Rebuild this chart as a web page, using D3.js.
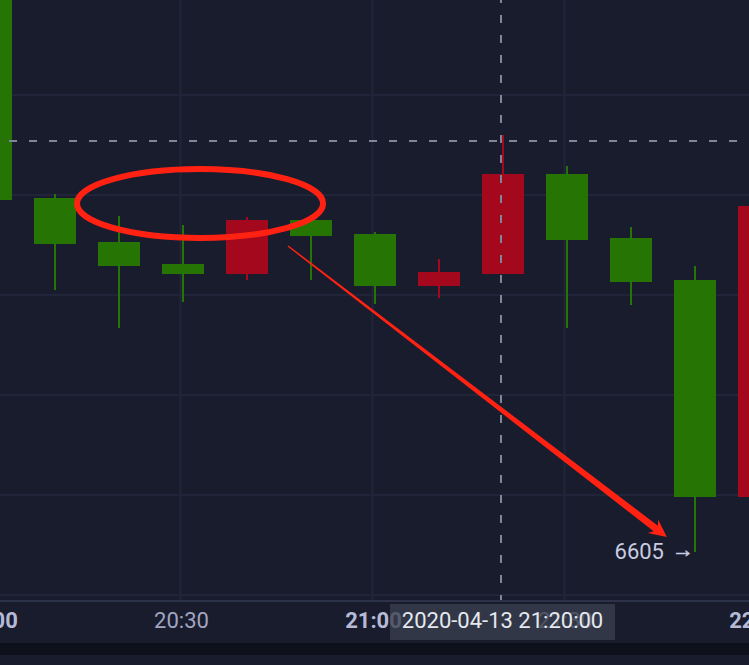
<!DOCTYPE html>
<html><head><meta charset="utf-8">
<script src="https://cdn.jsdelivr.net/npm/d3@7"></script>
<style>
html,body{margin:0;padding:0;background:#191c2d;overflow:hidden}
text{font-family:Roboto,"Noto Sans",sans-serif}
</style>
</head><body>
<svg id="chart" width="749" height="665"></svg>
<script>
// ---------- data ----------
const times  = ["20:00","20:10","20:20","20:30","20:40","20:50","21:00","21:10","21:20","21:30","21:40","21:50","22:00"];
const opens  = [6640.2, 6635.8, 6633.6, 6632.8, 6638.2, 6636.6, 6631.6, 6633.0, 6642.8, 6636.2, 6632.0, 6610.5, 6639.6];
const closes = [6664.2, 6640.4, 6636.0, 6633.8, 6632.8, 6638.2, 6636.8, 6631.6, 6632.8, 6642.8, 6636.4, 6632.2, 6610.5];
const highs  = [6665.2, 6640.8, 6638.6, 6637.7, 6638.5, 6638.4, 6637.0, 6634.3, 6646.7, 6643.6, 6637.5, 6633.6, 6640.2];
const lows   = [6639.7, 6631.2, 6627.4, 6630.0, 6632.2, 6632.2, 6629.8, 6630.4, 6632.8, 6627.4, 6629.7, 6605.0, 6609.7];

const tickTimes  = ["20:00","20:30","21:00","21:30","22:00"];
const tickLabels = ["20:00","20:30","21:00","21:30","22:00"];
const tickBold   = [true, false, true, false, true];
const gridPrices = [6600.7, 6610.7, 6620.7, 6630.7, 6640.7, 6650.7];

const crossTime  = "21:20";
const crossPrice = 6646.1;
const crossLabel = "2020-04-13 21:20:00";

const lowMarkTime  = "21:50";
const lowMarkPrice = 6605;
const lowMarkValue = "6605";
const lowMarkArrow = "→";

// annotation: ellipse bounds (time, price) and arrow (start, end)
const ellipseTimes  = ["20:13:45", "20:52:12"];
const ellipsePrices = [6643.3, 6636.4];
const arrowTimes    = ["20:46:43", "21:45:55"];
const arrowPrices   = [6635.6, 6606.5];

// ---------- setup ----------
const W = 749, H = 665, plotBottom = 600;
const parse = s => { const p = s.split(":").map(Number); return new Date(2020, 3, 13, p[0], p[1], p[2] || 0); };

const x = d3.scaleTime().domain([parse("20:30"), parse("21:20")]).range([181, 501]);
const y = d3.scaleLinear().domain([6605, 6655]).range([552, 52]);

const candles = times.map((t, i) => ({ t: parse(t), o: opens[i], c: closes[i], h: highs[i], l: lows[i] }));

const svg = d3.select("#chart");
const C = {
  bg: "#191c2d", grid: "#21253a", up: "#267504", down: "#a4081d",
  cross: "#7e8698", axisLine: "#2c3248", strip: "#0e111b",
  label: "#a1a5c2", labelBold: "#b6bad6", anno: "#ff2213", markText: "#c9cce0"
};

svg.append("rect").attr("width", W).attr("height", H).attr("fill", C.bg);

svg.append("defs").append("clipPath").attr("id", "plotClip")
  .append("rect").attr("x", 0).attr("y", 0).attr("width", W).attr("height", plotBottom);

const plot = svg.append("g").attr("clip-path", "url(#plotClip)");

// grid
plot.selectAll("line.hg").data(gridPrices).join("line").attr("class", "hg")
  .attr("x1", 0).attr("x2", W).attr("y1", d => y(d)).attr("y2", d => y(d))
  .attr("stroke", C.grid).attr("stroke-width", 2);
plot.selectAll("line.vg").data(tickTimes).join("line").attr("class", "vg")
  .attr("x1", d => x(parse(d)) - 0.5).attr("x2", d => x(parse(d)) - 0.5)
  .attr("y1", 0).attr("y2", plotBottom)
  .attr("stroke", C.grid).attr("stroke-width", 2);

// candles
const bodyW = 42, cOff = 2;
const cg = plot.selectAll("g.candle").data(candles).join("g").attr("class", "candle");
cg.append("line")
  .attr("x1", d => x(d.t) + cOff).attr("x2", d => x(d.t) + cOff)
  .attr("y1", d => y(d.h)).attr("y2", d => y(d.l))
  .attr("stroke", d => d.c >= d.o ? C.up : C.down).attr("stroke-width", 2);
cg.append("rect")
  .attr("x", d => x(d.t) + cOff - bodyW / 2).attr("width", bodyW)
  .attr("y", d => y(Math.max(d.o, d.c)))
  .attr("height", d => Math.max(1, Math.abs(y(d.o) - y(d.c))))
  .attr("fill", d => d.c >= d.o ? C.up : C.down);

// crosshair
plot.append("line")
  .attr("x1", -11).attr("x2", W).attr("y1", y(crossPrice)).attr("y2", y(crossPrice))
  .attr("stroke", C.cross).attr("stroke-width", 2).attr("stroke-dasharray", "8,12");
plot.append("line")
  .attr("x1", x(parse(crossTime))).attr("x2", x(parse(crossTime)))
  .attr("y1", -5).attr("y2", plotBottom)
  .attr("stroke", C.cross).attr("stroke-width", 2).attr("stroke-dasharray", "8,12");

// annotation ellipse
const ex1 = x(parse(ellipseTimes[0])), ex2 = x(parse(ellipseTimes[1]));
const ey1 = y(ellipsePrices[0]), ey2 = y(ellipsePrices[1]);
plot.append("ellipse")
  .attr("cx", (ex1 + ex2) / 2).attr("cy", (ey1 + ey2) / 2)
  .attr("rx", (ex2 - ex1) / 2).attr("ry", (ey2 - ey1) / 2)
  .attr("fill", "none").attr("stroke", C.anno).attr("stroke-width", 6);

// annotation arrow (tapered)
const ax0 = x(parse(arrowTimes[0])), ay0 = y(arrowPrices[0]);
const ax1 = x(parse(arrowTimes[1])), ay1 = y(arrowPrices[1]);
const len = Math.hypot(ax1 - ax0, ay1 - ay0);
const dx = (ax1 - ax0) / len, dy = (ay1 - ay0) / len, nx = -dy, ny = dx;
const pt = (along, side) => [ax0 + dx * along + nx * side, ay0 + dy * along + ny * side];
const arrowPts = [
  pt(0, 0.7), pt(len - 14, 3.5), pt(len - 17.5, 8.5), pt(len, 0),
  pt(len - 17.5, -8.5), pt(len - 14, -3.5), pt(0, -0.7)
];
plot.append("polygon").attr("points", arrowPts.map(p => p.join(",")).join(" "))
  .attr("fill", C.anno);

// low marker text
const mx = x(parse(lowMarkTime)) + cOff;
plot.append("text")
  .attr("x", mx - 31).attr("y", y(lowMarkPrice) + 6.5)
  .attr("text-anchor", "end").attr("font-size", 22).attr("fill", C.markText)
  .text(lowMarkValue);
plot.append("text")
  .attr("x", mx - 23).attr("y", y(lowMarkPrice) + 4.5)
  .attr("text-anchor", "start").attr("font-size", 22)
  .attr("font-family", "Inter, Lato, sans-serif")
  .attr("fill", C.markText).attr("stroke", C.markText).attr("stroke-width", 0.6)
  .text(lowMarkArrow);

// ---------- time axis ----------
svg.append("rect").attr("x", 0).attr("y", 643).attr("width", W).attr("height", 12).attr("fill", C.strip);
svg.append("line").attr("x1", 0).attr("x2", W).attr("y1", 601).attr("y2", 601)
  .attr("stroke", C.axisLine).attr("stroke-width", 2);

const axis = d3.axisBottom(x)
  .tickValues(tickTimes.map(parse))
  .tickFormat((d, i) => tickLabels[i])
  .tickSize(0).tickPadding(0);
const ag = svg.append("g").call(axis);
ag.select(".domain").remove();
ag.selectAll(".tick text")
  .attr("y", 628).attr("dy", null)
  .attr("font-family", "Roboto, sans-serif")
  .attr("font-size", 22)
  .attr("font-weight", (d, i) => tickBold[i] ? "bold" : "normal")
  .attr("fill", (d, i) => tickBold[i] ? C.labelBold : C.label);

// crosshair time label
const cx = x(parse(crossTime));
svg.append("rect").attr("x", cx - 111).attr("y", 604).attr("width", 225).attr("height", 36)
  .attr("fill", "#3a3f4e").attr("fill-opacity", 0.78);
svg.append("text").attr("x", cx + 1.5).attr("y", 628).attr("text-anchor", "middle")
  .attr("font-size", 22).attr("fill", "#e6e8ef").text(crossLabel);
</script>
</body></html>
